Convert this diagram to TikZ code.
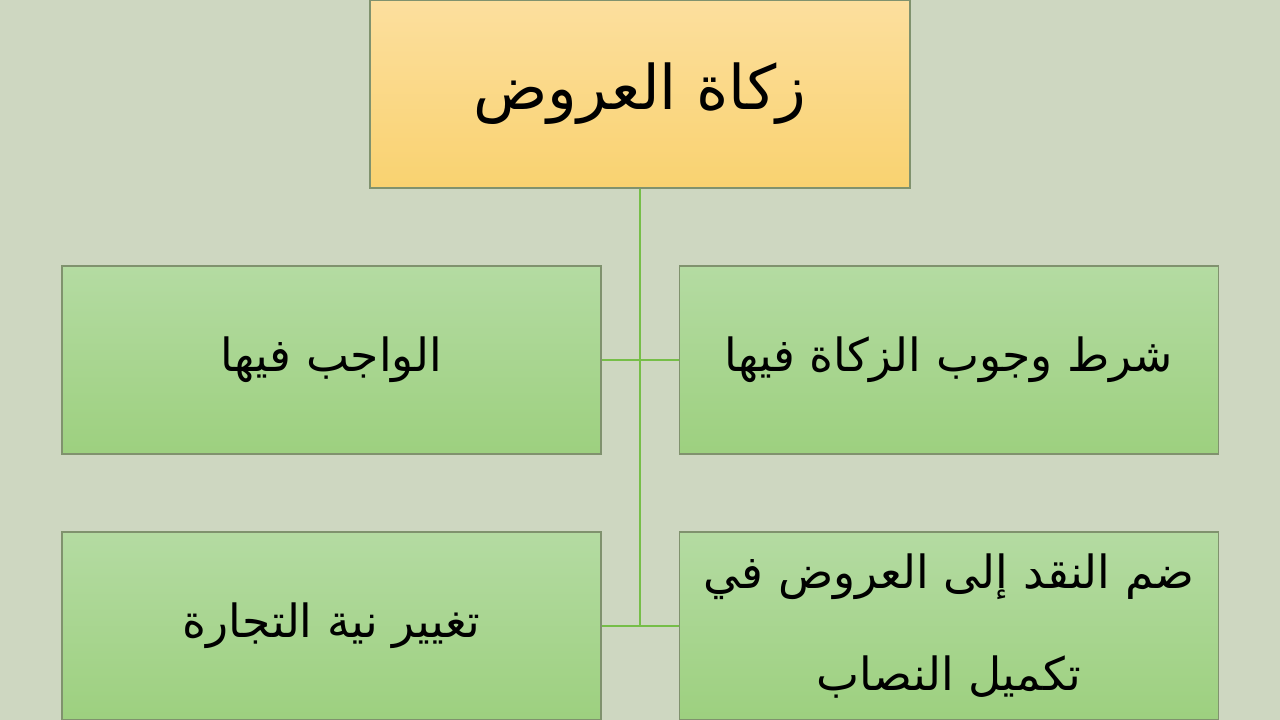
\documentclass[tikz,border=0pt]{standalone}
\usepackage{fontspec}
\usepackage{tikz}
\usetikzlibrary{positioning}
\newfontfamily\arabicfont[Script=Arabic]{DejaVu Sans}
\TeXXeTstate=1

\definecolor{bgc}{RGB}{206,215,193}
\definecolor{edgec}{RGB}{128,146,110}
\definecolor{linkc}{RGB}{118,190,72}
\definecolor{ytop}{RGB}{252,223,158}
\definecolor{ybot}{RGB}{249,210,112}
\definecolor{gtop}{RGB}{180,219,162}
\definecolor{gbot}{RGB}{157,208,127}

\tikzset{
	head/.style={draw=edgec, line width=0.5pt, top color=ytop, bottom color=ybot,
		minimum width=5.4cm, minimum height=1.88cm, inner sep=0pt,
		font=\arabicfont\fontsize{17.5pt}{24pt}\selectfont},
	item/.style={draw=edgec, line width=0.5pt, top color=gtop, bottom color=gbot,
		minimum width=5.39cm, minimum height=1.88cm, inner sep=0pt, align=center,
		font=\arabicfont\fontsize{13pt}{29pt}\selectfont},
	link/.style={draw=linkc, line width=0.6pt}
}

\begin{document}
\begin{tikzpicture}
	\fill[bgc] (0,0) rectangle (12.8,7.2);
	\useasboundingbox (0,0) rectangle (12.8,7.2);
	
	\node[head] (0) at (6.40,6.26) {\beginR زكاة العروض\endR};
	\node[item] (1) at (9.49,3.60) {\beginR شرط وجوب الزكاة فيها\endR};
	\node[item] (2) at (3.315,3.60) {\beginR الواجب فيها\endR};
	\node[item] (3) at (9.49,0.94) {\beginR ضم النقد إلى العروض في\endR\\\beginR تكميل النصاب\endR};
	\node[item] (4) at (3.315,0.94) {\beginR تغيير نية التجارة\endR};
	
	\path [link]
	(0.south) -- (0.south |- 3.west)
	(2.east) -- (1.west)
	(4.east) -- (3.west);
\end{tikzpicture}
\end{document}
